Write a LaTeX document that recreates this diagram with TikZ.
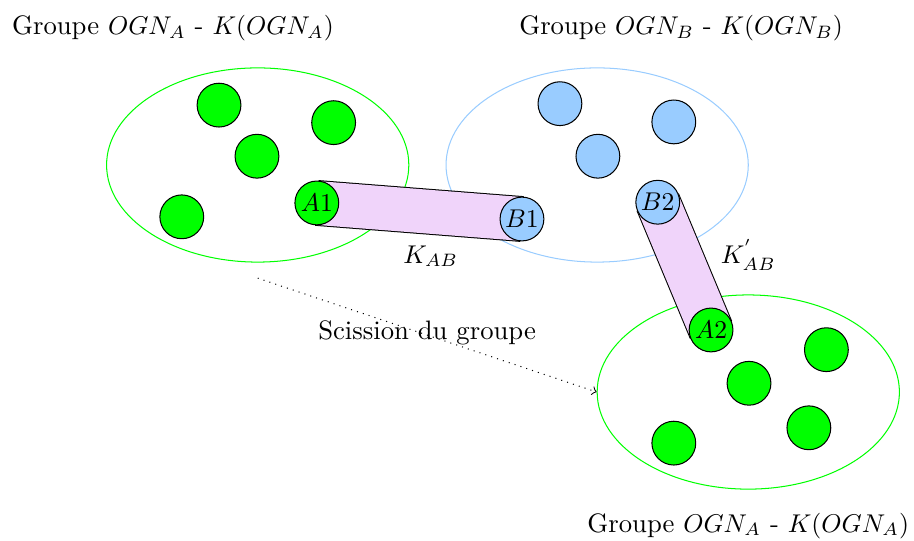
\documentclass[tikz,border=0pt]{standalone}
\usepackage{amsmath}
\usepackage{tikz}
\usetikzlibrary{shapes.geometric}
\usepackage{xcolor}
\definecolor{bleuclair}{RGB}{153,204,255}
\definecolor{rosetunnel}{RGB}{240,212,250}

\tikzset{
  every node/.style={font=\fontsize{10.4}{12.5}\selectfont},
  vert/.style={circle, draw=black, fill=green, minimum size=0.6cm, inner sep=0pt},
  bleu/.style={circle, draw=black, fill=bleuclair, minimum size=0.6cm, inner sep=0pt},
  groupe/.style={ellipse, minimum width=4.14cm, minimum height=2.66cm, inner sep=0pt},
  tunnel/.style={line width={0.6cm+0.8pt}}
}

\begin{document}
\begin{tikzpicture}
\useasboundingbox (0,0) rectangle (12.52,7.41);
% les trois groupes
\node [groupe] [draw=green] (grpA) at (3.53,5.15) {};
\node [groupe] [draw=bleuclair] (grpB) at (8.18,5.15) {};
\node [groupe] [draw=green] (grpC) at (10.25,2.04) {};
\node (titreA) at (2.37,7.03) {Groupe $OGN_A$ - $K(OGN_A)$};
\node (titreB) at (9.33,7.03) {Groupe $OGN_B$ - $K(OGN_B)$};
\node (titreC) at (10.25,0.21) {Groupe $OGN_A$ - $K(OGN_A)$};

% tunnels
\coordinate (a1) at (4.34,4.63);
\coordinate (b1) at (7.15,4.41);
\coordinate (b2) at (9.01,4.64);
\coordinate (a2) at (9.74,2.89);
\draw [tunnel, black] (a1) -- (b1);
\draw [tunnel, rosetunnel, line width=0.6cm] (a1) -- (b1);
\draw [tunnel, black] (b2) -- (a2);
\draw [tunnel, rosetunnel, line width=0.6cm] (b2) -- (a2);
\node (kab) at (5.90,3.90) {$K_{AB}$};
\node (kabp) at (10.25,3.92) {$K^{'}_{AB}$};

% membres du groupe A
\node [vert] (vA1) at (3.00,5.97) {};
\node [vert] (vA2) at (4.57,5.73) {};
\node [vert] (vA3) at (3.52,5.27) {};
\node [vert] (vA4) at (2.49,4.44) {};
\node [vert] (A1) at (a1) {$A1$};

% membres du groupe B
\node [bleu] (vB1) at (7.67,5.99) {};
\node [bleu] (vB2) at (9.23,5.74) {};
\node [bleu] (vB3) at (8.19,5.27) {};
\node [bleu] (B1) at (b1) {$B1$};
\node [bleu] (B2) at (b2) {$B2$};

% nouveau groupe
\node [vert] (A2) at (a2) {$A2$};
\node [vert] (vC1) at (11.32,2.62) {};
\node [vert] (vC2) at (10.26,2.16) {};
\node [vert] (vC3) at (11.08,1.55) {};
\node [vert] (vC4) at (9.23,1.34) {};

% scission
\coordinate (depart) at (3.53,3.60);
\draw [dotted] [->] (depart) -- (grpC.west);
\node (scission) at (5.85,2.85) {Scission du groupe};
\end{tikzpicture}
\end{document}
